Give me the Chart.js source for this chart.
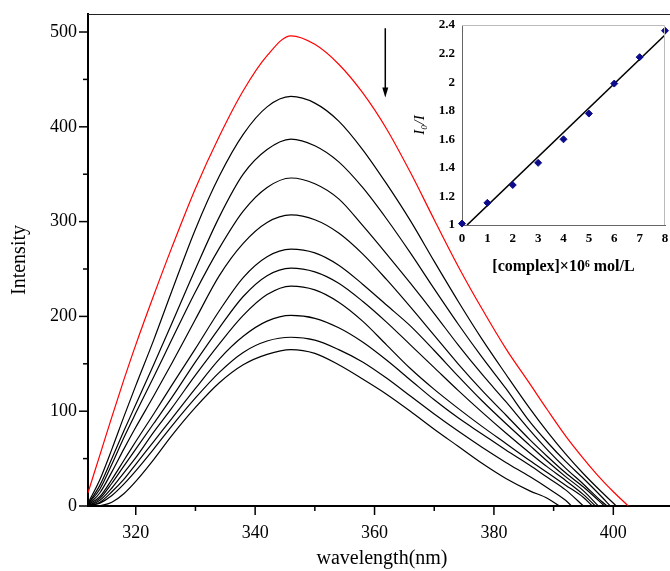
<!DOCTYPE html>
<html lang="en">
  <head>
    <meta charset="UTF-8" />
    <title>Fluorescence quenching</title>
    <script src="https://cdnjs.cloudflare.com/ajax/libs/Chart.js/4.4.1/chart.umd.min.js"></script>
    <style>
      html,
      body {
        margin: 0;
        padding: 0;
        background: #fff;
        overflow: hidden;
      }
      .wrap {
        position: relative;
        width: 670px;
        height: 571px;
        overflow: hidden;
      }
      #main {
        position: absolute;
        left: 0;
        top: 0;
      }
      #inset {
        position: absolute;
        left: 400px;
        top: 0;
      }
    </style>
  </head>
  <body>
    <div class="wrap">
      <canvas id="main" width="680" height="571"></canvas>
      <canvas id="inset" width="270" height="285"></canvas>
    </div>

    <script>
      // emission spectra
      const wavelengths = [312, 314, 316, 318, 320, 323, 326, 330, 334, 338, 342, 346, 350, 354, 358, 362, 366, 370, 374, 378, 382, 386, 389, 392, 395, 398, 400];

      const freeSpectrum = [14, 54, 94, 133, 170, 222, 272, 335, 390, 438, 475, 496, 487, 466, 436, 398, 352, 302, 253, 208, 166, 129, 101, 74, 50, 28, 15];
      const spectrum1 = [3, 28, 60, 94, 127, 175, 226, 292, 348, 392, 421, 432, 425, 406, 376, 340, 301, 258, 216, 176, 139, 103, 78, 55, 34, 15, null];
      const spectrum2 = [2, 22, 50, 79, 107, 149, 192, 250, 305, 350, 376, 387, 380, 363, 336, 303, 267, 229, 192, 157, 124, 89, 67, 47, 29, 10, null];
      const spectrum3 = [2, 18, 44, 72, 98, 136, 175, 226, 272, 311, 336, 346, 340, 324, 296, 266, 235, 203, 170, 139, 110, 80, 59, 40, 23, 5, null];
      const spectrum4 = [1, 14, 36, 60, 83, 116, 150, 197, 243, 277, 299, 307, 302, 288, 266, 239, 210, 180, 150, 122, 96, 70, 52, 35, 20, 3, null];
      const spectrum5 = [1, 10, 28, 48, 68, 97, 127, 166, 206, 241, 263, 271, 267, 254, 234, 212, 190, 164, 137, 111, 87, 64, 47, 31, 16, null, null];
      const spectrum6 = [0, 8, 24, 42, 60, 87, 114, 152, 188, 221, 243, 251, 247, 235, 216, 194, 170, 146, 122, 99, 77, 56, 41, 27, 12, null, null];
      const spectrum7 = [0, 6, 19, 35, 51, 78, 103, 138, 171, 201, 223, 232, 228, 215, 195, 170, 145, 123, 103, 84, 66, 48, 35, 22, 9, null, null];
      const spectrum8 = [0, 4, 15, 28, 44, 68, 92, 124, 155, 179, 195, 201, 198, 188, 173, 154, 133, 112, 93, 76, 59, 43, 30, 17, null, null, null];
      const spectrum9 = [0, 3, 11, 23, 37, 60, 84, 114, 141, 162, 174, 178, 175, 165, 152, 135, 116, 97, 79, 62, 46, 31, 19, 6, null, null, null];
      const spectrum10 = [null, 0, 4, 13, 26, 49, 74, 104, 130, 149, 160, 165, 161, 149, 134, 118, 100, 81, 63, 45, 29, 16, 8, null, null, null, null];

      // wavelength where each spectrum comes down to zero
      const endWavelength = [402.5, 400.5, 399.5, 399, 398.5, 397.5, 397, 396.5, 395, 393, 391];

      const xTicks = [320, 330, 340, 350, 360, 370, 380, 390, 400, 410];
      const yTicks = [0, 50, 100, 150, 200, 250, 300, 350, 400, 450, 500];

      // arrow: wavelength, top intensity, tip intensity
      const arrowAt = [361.8, 504, 431];

      // inset Stern-Volmer plot
      const concentration = [0, 1, 2, 3, 4, 5, 6, 7, 8];
      const ratio = [1.01, 1.155, 1.28, 1.435, 1.6, 1.78, 1.99, 2.175, 2.36];
      const fitX = [0.2, 8];
      const fitY = [1.0, 2.33];
      const insetXTicks = [0, 1, 2, 3, 4, 5, 6, 7, 8];
      const insetYTicks = [1, 1.2, 1.4, 1.6, 1.8, 2, 2.2, 2.4];

      Chart.defaults.font.family = "'Liberation Serif', 'Times New Roman', serif";
      Chart.defaults.color = "#000";

      const spectra = [freeSpectrum, spectrum1, spectrum2, spectrum3, spectrum4, spectrum5, spectrum6, spectrum7, spectrum8, spectrum9, spectrum10];

      const datasets = spectra.map((values, k) => {
        const pts = wavelengths
          .map((w, i) => ({ x: w, y: values[i] }))
          .filter((p) => p.y !== null);
        pts.push({ x: endWavelength[k], y: 0 });
        return {
          data: pts,
          borderColor: k === 0 ? "#ff0000" : "#000",
          borderWidth: 1.2,
          pointRadius: 0,
          cubicInterpolationMode: "monotone",
          fill: false,
        };
      });

      // no extra room for edge labels, the plot box is set by hand
      function noEdgePadding(s) {
        s.paddingLeft = 0;
        s.paddingRight = 0;
        s.paddingTop = 0;
        s.paddingBottom = 0;
      }

      const frame = {
        id: "frame",
        afterDraw(chart) {
          const { ctx, chartArea, scales } = chart;
          const x = scales.x;
          const y = scales.y;
          ctx.save();
          ctx.strokeStyle = "#000";
          ctx.lineWidth = 1.5;
          // tick marks, long on labelled values
          x.ticks.forEach((t) => {
            const px = x.getPixelForValue(t.value);
            const len = t.value % 20 === 0 ? 9 : 5;
            ctx.beginPath();
            ctx.moveTo(px, chartArea.bottom);
            ctx.lineTo(px, chartArea.bottom + len);
            ctx.stroke();
          });
          y.ticks.forEach((t) => {
            const py = y.getPixelForValue(t.value);
            const len = t.value % 100 === 0 ? 9 : 5;
            ctx.beginPath();
            ctx.moveTo(chartArea.left - len, py);
            ctx.lineTo(chartArea.left, py);
            ctx.stroke();
          });
          // top of the frame
          ctx.lineWidth = 1;
          ctx.strokeStyle = "#222";
          ctx.beginPath();
          ctx.moveTo(chartArea.left, chartArea.top + 0.5);
          ctx.lineTo(chart.width, chartArea.top + 0.5);
          ctx.stroke();
          // arrow
          const ax = x.getPixelForValue(arrowAt[0]);
          const aTop = y.getPixelForValue(arrowAt[1]);
          const aTip = y.getPixelForValue(arrowAt[2]);
          ctx.lineWidth = 1.5;
          ctx.strokeStyle = "#000";
          ctx.beginPath();
          ctx.moveTo(ax, aTop);
          ctx.lineTo(ax, aTip - 6);
          ctx.stroke();
          ctx.fillStyle = "#000";
          ctx.beginPath();
          ctx.moveTo(ax - 3, aTip - 10);
          ctx.lineTo(ax + 3, aTip - 10);
          ctx.lineTo(ax, aTip);
          ctx.closePath();
          ctx.fill();
          ctx.restore();
        },
      };

      new Chart(document.getElementById("main"), {
        type: "line",
        data: { datasets },
        options: {
          responsive: false,
          animation: false,
          layout: { padding: { top: 14, right: 4, left: 0, bottom: 0 } },
          plugins: { legend: { display: false }, tooltip: { enabled: false } },
          scales: {
            x: {
              type: "linear",
              min: 312,
              max: 410.5,
              afterBuildTicks: (s) => {
                s.ticks = xTicks.map((v) => ({ value: v }));
              },
              afterFit: (s) => {
                s.height = 65;
                noEdgePadding(s);
              },
              grid: { display: false, drawTicks: false },
              border: { display: true, color: "#000", width: 2 },
              ticks: {
                padding: 16,
                font: { size: 18 },
                callback: (v) => (v % 20 === 0 ? v : ""),
              },
              title: {
                display: true,
                text: "wavelength(nm)",
                font: { size: 20 },
                padding: { top: 0, bottom: 0 },
              },
            },
            y: {
              min: 0,
              max: 519,
              afterBuildTicks: (s) => {
                s.ticks = yTicks.map((v) => ({ value: v }));
              },
              afterFit: (s) => {
                s.width = 88;
                noEdgePadding(s);
              },
              grid: { display: false, drawTicks: false },
              border: { display: true, color: "#000", width: 2 },
              ticks: {
                padding: 11,
                font: { size: 18 },
                callback: (v) => (v % 100 === 0 ? v : ""),
              },
              title: {
                display: true,
                text: "Intensity",
                font: { size: 20 },
                padding: { top: 8, bottom: 0 },
              },
            },
          },
        },
        plugins: [frame],
      });

      const insetBox = {
        id: "insetBox",
        afterDraw(chart) {
          const { ctx, chartArea } = chart;
          ctx.save();
          ctx.strokeStyle = "#bbb";
          ctx.lineWidth = 1;
          ctx.beginPath();
          ctx.moveTo(chartArea.left, chartArea.top + 0.5);
          ctx.lineTo(chartArea.right - 0.5, chartArea.top + 0.5);
          ctx.lineTo(chartArea.right - 0.5, chartArea.bottom);
          ctx.stroke();
          ctx.restore();
        },
      };

      new Chart(document.getElementById("inset"), {
        type: "scatter",
        data: {
          datasets: [
            {
              data: concentration.map((c, i) => ({ x: c, y: ratio[i] })),
              pointStyle: "rectRot",
              pointRadius: 3.5,
              backgroundColor: "#0b0b8c",
              borderColor: "#0b0b8c",
              clip: false,
            },
            {
              data: fitX.map((v, i) => ({ x: v, y: fitY[i] })),
              showLine: true,
              pointRadius: 0,
              borderColor: "#000",
              borderWidth: 1.6,
            },
          ],
        },
        options: {
          responsive: false,
          animation: false,
          layout: { padding: { top: 25, right: 4, left: 0, bottom: 0 } },
          plugins: { legend: { display: false }, tooltip: { enabled: false } },
          scales: {
            x: {
              min: 0,
              max: 8,
              afterBuildTicks: (s) => {
                s.ticks = insetXTicks.map((v) => ({ value: v }));
              },
              afterFit: (s) => {
                s.height = 60;
                noEdgePadding(s);
              },
              grid: { display: false, drawTicks: false },
              border: { display: true, color: "#666", width: 1 },
              ticks: { padding: 6, font: { size: 13, weight: "bold" } },
              title: {
                display: true,
                text: "[complex]×10⁶ mol/L",
                font: { size: 16, weight: "bold" },
                padding: { top: 0, bottom: 9 },
              },
            },
            y: {
              min: 1,
              max: 2.4,
              afterBuildTicks: (s) => {
                s.ticks = insetYTicks.map((v) => ({ value: v }));
              },
              afterFit: (s) => {
                s.width = 62;
                noEdgePadding(s);
              },
              grid: { display: false, drawTicks: false },
              border: { display: true, color: "#666", width: 1 },
              ticks: {
                padding: 7,
                font: { size: 13, weight: "bold" },
                callback: (v) => String(+v.toFixed(1)),
              },
              title: {
                display: true,
                text: "I₀/I",
                font: { size: 15, style: "italic" },
                padding: { top: 11, bottom: 0 },
              },
            },
          },
        },
        plugins: [insetBox],
      });
    </script>
  </body>
</html>
